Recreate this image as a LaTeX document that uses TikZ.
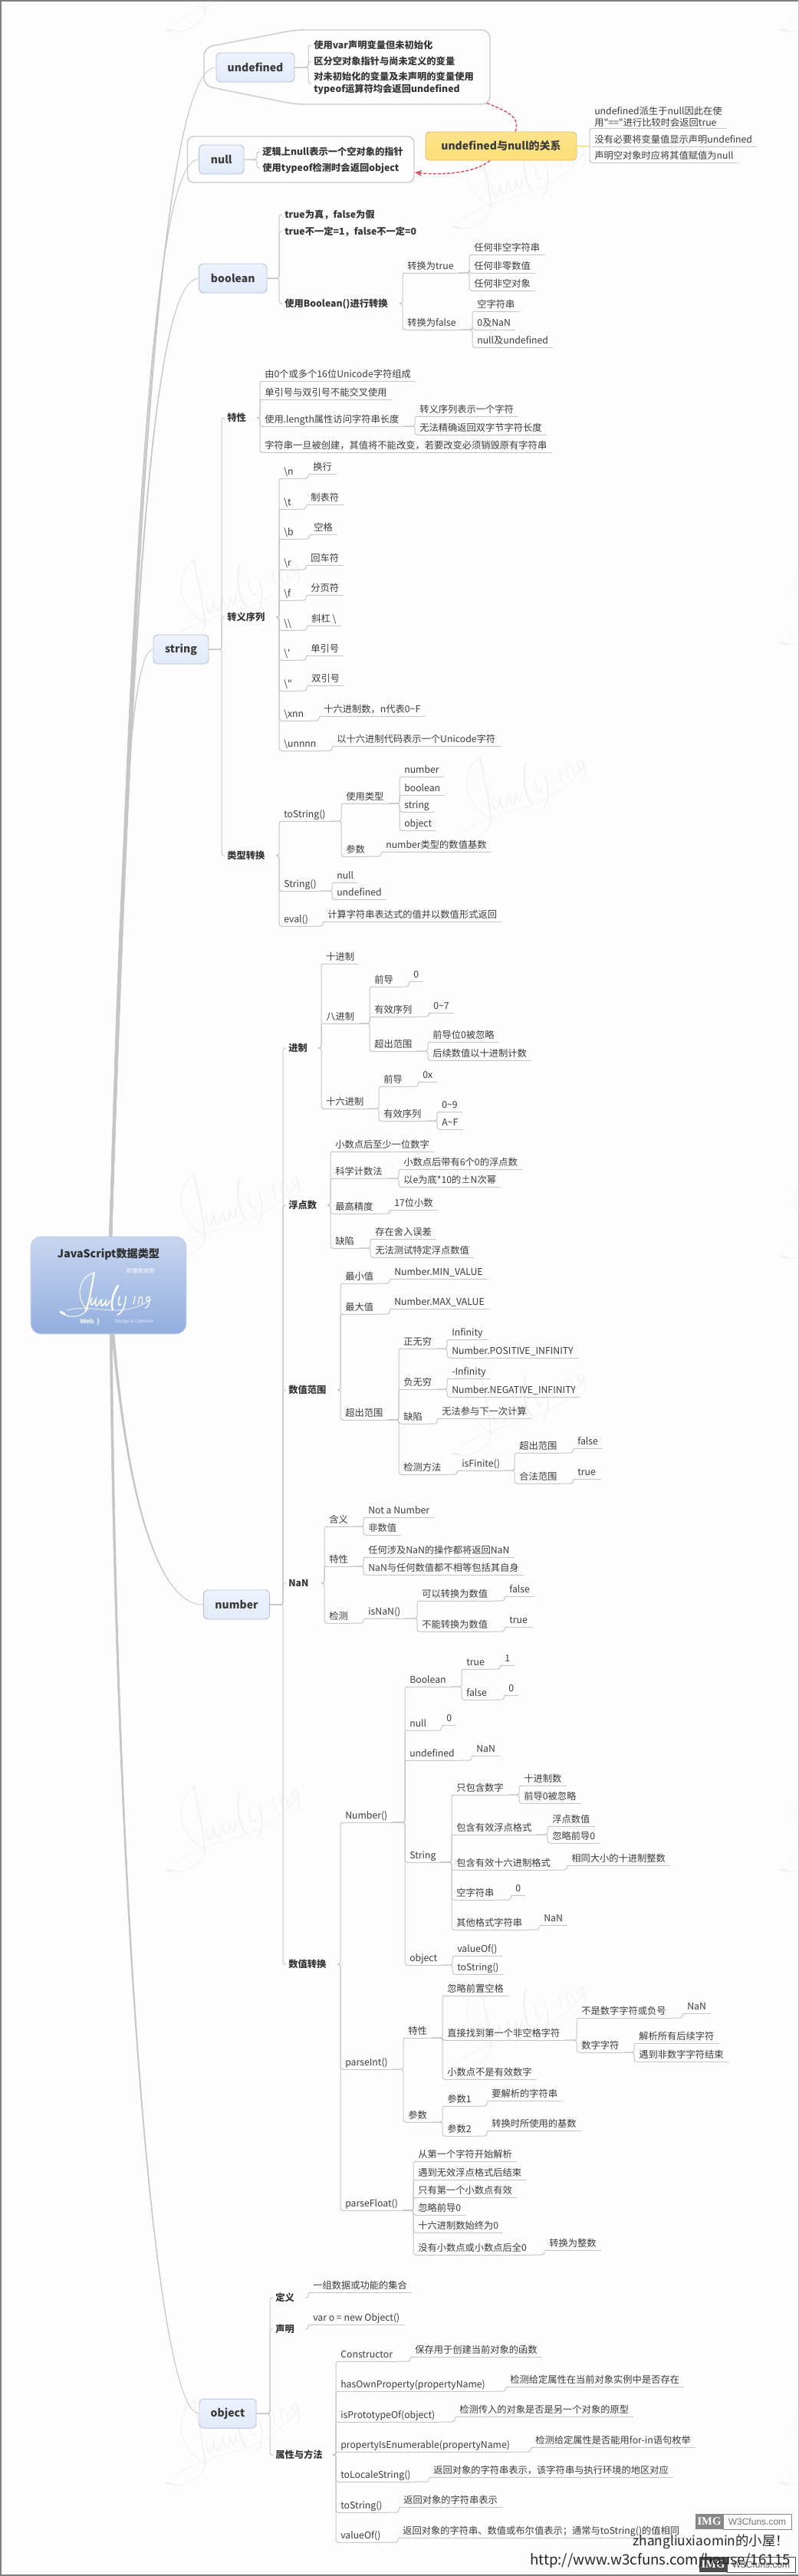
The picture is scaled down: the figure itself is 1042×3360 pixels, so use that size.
\documentclass[tikz,border=0pt]{standalone}
\usepackage{fontspec}
\usetikzlibrary{arrows.meta}
\newfontfamily\cn{Noto Sans CJK SC}
\newfontfamily\lsans{Liberation Sans}
\newfontfamily\lserif{Liberation Serif}
\definecolor{lk}{HTML}{C6C6C8}
\definecolor{tx}{HTML}{3C3C3C}
\definecolor{bgc}{HTML}{FDFDFD}
\definecolor{wm}{HTML}{F1F1F3}
\definecolor{boxline}{HTML}{B4C2DC}
\definecolor{boxtop}{HTML}{EEF3FC}
\definecolor{boxbot}{HTML}{E2EAF9}
\definecolor{framec}{HTML}{CBCBD0}
\definecolor{relc}{HTML}{D9505F}
\definecolor{rootA}{HTML}{C8D6F0}
\definecolor{rootB}{HTML}{A0B9E3}
\definecolor{rootC}{HTML}{92AEDE}
\definecolor{relline}{HTML}{E3BD62}
\definecolor{relA}{HTML}{FBE38C}
\definecolor{relB}{HTML}{FDDF78}
\tikzset{
  u/.style={anchor=south west,inner xsep=4.5pt,inner ysep=1pt,text height=7pt,text depth=2pt,font=\cn\fontsize{9.2}{11}\selectfont,text=tx},
  bo/.style={anchor=west,inner xsep=5.25pt,inner ysep=1pt,text height=8.8pt,text depth=2pt,font=\cn\bfseries\fontsize{9.2}{11}\selectfont,text=tx!90!black},
  lnk/.style={draw=lk,line width=.75pt,rounded corners=2.2pt},
  tbox/.style={draw=boxline,rounded corners=4.5pt,line width=.7pt,top color=boxtop,bottom color=boxbot,inner sep=0pt,font=\cn\bfseries\fontsize{10.5}{12}\selectfont,text=tx},
  frame/.style={draw=framec,line width=1.1pt},
  relarrow/.style={draw=relc,line width=1.1pt,dash pattern=on 3pt off 1.6pt},
  branch/.style={fill=lk,draw=lk,line width=.5pt},
}
% connectors
\newcommand\LK[2]{\draw[lnk] (#1) -- (#2 |- #1) -- (#2) -- ([xshift=3pt]#2);}
\newcommand\TK[2]{\draw[lnk] ([xshift=-3pt]#2 |- #1) -- (#2 |- #1) -- (#2) -- ([xshift=3pt]#2);}
\newcommand\ulin[1]{\draw[draw=lk,line width=.75pt] ([xshift=2.5pt]#1.south west) -- (#1.south east);}
% child with underline of an underlined parent
\newcommand\kidU[5]{\node[u] (#2) at (#3,#4) {#5};\ulin{#2}\LK{#1.south east}{#2.south west}}
% child with underline of a bold parent
\newcommand\kidT[5]{\node[u] (#2) at (#3,#4) {#5};\ulin{#2}\TK{#1.east}{#2.south west}}
% bold child of a box
\newcommand\kidB[5]{\node[bo] (#2) at (#3,#4) {#5};\LK{#1.east}{#2.west}}
% tapered branch from the root
\newcommand\branchlk[4]{\draw[branch] ([xshift=-1.2pt]#1) .. controls (#2) and (#3) .. (#4) .. controls ([xshift=.4pt]#3) and ([xshift=1.2pt]#2) .. ([xshift=1.2pt]#1) -- cycle;}
% logo strokes
\newcommand\logo[6]{%
\begin{scope}[shift={(#1,#2)},rotate=#3,scale=#4,shift={(0,-53)},line cap=round]
  \draw[#5,line width=2*#6] (44,1) .. controls (40,20) and (38,40) .. (32,52);
  \draw[#5,line width=#6] (44,1) .. controls (30,4) and (22,20) .. (26,34) .. controls (28,42) and (32,47) .. (36,50);
  \draw[#5,line width=#6] (32,52) .. controls (24,60) and (10,60) .. (2,54);
  \draw[#5,line width=3*#6] (0,52) -- (5,55);
  \draw[#5,line width=.7*#6] (8,50) .. controls (30,44) and (50,50) .. (70,50) .. controls (85,50) and (100,48) .. (118,36);
  \draw[#5,line width=1.6*#6] (41,34) .. controls (37,44) and (41,47) .. (46,36) .. controls (44,45) and (47,48) .. (52,37);
  \draw[#5,line width=1.6*#6] (54,36) .. controls (51,45) and (54,48) .. (59,38) .. controls (58,45) and (60,47) .. (64,38);
  \draw[#5,line width=2.6*#6] (75,18) .. controls (68,28) and (65,42) .. (68,49);
  \draw[#5,line width=1.6*#6] (77,32) .. controls (74,42) and (76,46) .. (79,42);
  \draw[#5,line width=1.6*#6] (85,32) .. controls (85,44) and (80,54) .. (74,56);
  \draw[#5,line width=1.2*#6] (97,32) -- (95,42);
  \draw[#5,line width=1.2*#6] (101,42) -- (103,33) .. controls (107,31) and (107,36) .. (106,42);
  \draw[#5,line width=1.2*#6] (116,33) .. controls (110,31) and (110,40) .. (115,38) (116,33) .. controls (116,42) and (114,47) .. (110,47);
\end{scope}}
\begin{document}
\begin{tikzpicture}[x=.75pt,y=-.75pt]
\useasboundingbox (0,0) rectangle (1042,3360);
\fill[bgc] (0,0) rectangle (1042,3360);
% watermarks
\logo{590}{297}{22}{1.69}{wm}{.6pt}
\logo{590}{1097}{22}{1.69}{wm}{.6pt}
\logo{590}{1897}{22}{1.69}{wm}{.6pt}
\logo{590}{2697}{22}{1.69}{wm}{.6pt}
\logo{217}{40}{22}{1.69}{wm}{.6pt}
\logo{217}{840}{22}{1.69}{wm}{.6pt}
\logo{217}{1640}{22}{1.69}{wm}{.6pt}
\logo{217}{2440}{22}{1.69}{wm}{.6pt}
\logo{217}{3240}{22}{1.69}{wm}{.6pt}
\logo{1018}{40}{22}{1.69}{wm}{.6pt}
\logo{1018}{840}{22}{1.69}{wm}{.6pt}
\logo{1018}{1640}{22}{1.69}{wm}{.6pt}
\logo{1018}{2440}{22}{1.69}{wm}{.6pt}
\logo{1018}{3240}{22}{1.69}{wm}{.6pt}
% root and boxes
\node[draw=boxline!80!white,rounded corners=10pt,line width=.7pt,top color=rootA,middle color=rootB,bottom color=rootC,minimum width=152pt,minimum height=95pt,inner sep=0pt] (root) at (141.5,1676.5) {};
\coordinate (rtop) at ([xshift=2pt]root.north);
\coordinate (rnum) at ([xshift=4.5pt]root.south);
\coordinate (robj) at ([xshift=2.5pt]root.south);
\node[tbox,minimum width=76.5pt,minimum height=28.5pt] (undef) at (333,88) {undefined};
\node[tbox,minimum width=43.9pt,minimum height=28.5pt] (nul) at (288.75,208) {null};
\node[tbox,minimum width=66.4pt,minimum height=28.5pt] (bool) at (303.75,363) {boolean};
\node[tbox,minimum width=54pt,minimum height=28.5pt] (str) at (236,847) {string};
\node[tbox,minimum width=64.7pt,minimum height=28.5pt] (num) at (308.5,2093) {number};
\node[tbox,minimum width=55.5pt,minimum height=28.5pt] (obj) at (297,3148) {object};
% branches from the root
\branchlk{rtop}{175,620}{215,88}{undef.west}
\branchlk{rtop}{172,700}{200,207}{nul.west}
\branchlk{rtop}{170,850}{195,363}{bool.west}
\branchlk{rtop}{155,1200}{165,847}{str.west}
\branchlk{rnum}{165,1950}{205,2093}{num.west}
\branchlk{robj}{150,2450}{200,3148}{obj.west}
% root content
\node[inner sep=0pt,font=\cn\bfseries\fontsize{10.6}{12}\selectfont,text=black!82] (roottitle) at (141.5,1636) {JavaScript数据类型};
\logo{79}{1712}{0}{1}{white}{.75pt}
\node[text=white,inner sep=0pt,font=\cn\fontsize{5.5}{6}\selectfont] (rootfront) at (183,1658) {前端攻城师};
\node[text=white,inner sep=0pt,font=\lsans\bfseries\fontsize{6.5}{7}\selectfont] (rootweb) at (117,1724) {Web \,\}};
\node[text=white,opacity=.75,inner sep=0pt,font=\lsans\fontsize{4.6}{5}\selectfont] (rootdes) at (175,1724) {Design \& Optimize};
% frames
\draw[frame,rounded corners=8pt] (266,62) -- (385,39) -- (639,39) -- (639,136) -- (385,136) -- (266,112) -- cycle;
\draw[frame,rounded corners=6pt] (244.5,178) rectangle (540,238);
\coordinate (fu) at (633,134);
\coordinate (fn) at (541,225);
% relation
\node[tbox,draw=relline,top color=relA,bottom color=relB,minimum width=147.75pt,minimum height=27.75pt] (rel) at (653.5,190.5) {undefined与null的关系};
\draw[relarrow] ([xshift=13.9pt]rel.north) .. controls (678,155) and (668,147) .. (fu);
\draw[relarrow,-{Stealth[length=7pt,width=6pt]}] ([xshift=-10.9pt]rel.south) .. controls (620,225) and (580,229) .. (fn);
% undefined
\kidB{undef}{ua}{402}{59}{使用var声明变量但未初始化}
\kidB{undef}{ub}{402}{80}{区分空对象指针与尚未定义的变量}
\node[anchor=west,inner xsep=5.25pt,inner ysep=1pt,align=left,font=\cn\bfseries\fontsize{9.2}{12}\selectfont,text=tx!90!black] (uc) at (402,109) {对未初始化的变量及未声明的变量使用\\typeof运算符均会返回undefined};
\LK{undef.east}{uc.west}
% null
\kidB{nul}{na}{335}{198}{逻辑上null表示一个空对象的指针}
\kidB{nul}{nb}{335}{219}{使用typeof检测时会返回object}
% relation children
\node[u,text height=,text depth=,align=left,font=\cn\fontsize{9.2}{11}\selectfont] (ra) at (769,167) {undefined派生于null因此在使\\用"=="进行比较时会返回true};
\ulin{ra}
\node[u] (rb) at (769,191) {没有必要将变量值显示声明undefined};
\ulin{rb}
\node[u] (rc) at (769,212) {声明空对象时应将其值赋值为null};
\ulin{rc}
\draw[lnk] ([xshift=3pt]ra.south west) -- (ra.south west) -- (rc.south west) -- ([xshift=3pt]rc.south west);
\draw[draw=relB!90!orange,line width=.9pt] (rel.east) -- (rb.south west);
% boolean
\kidB{bool}{ba}{364}{280}{true为真，false为假}
\kidB{bool}{bb}{364}{302}{true不一定=1，false不一定=0}
\kidB{bool}{bc}{364}{396}{使用Boolean()进行转换}
\kidT{bc}{bd}{525}{356}{转换为true}
\kidT{bc}{be}{525}{430}{转换为false}
\kidU{bd}{bf}{612}{332}{任何非空字符串}
\kidU{bd}{bg}{612}{356}{任何非零数值}
\kidU{bd}{bh}{612}{379}{任何非空对象}
\kidU{be}{bi}{616}{406}{空字符串}
\kidU{be}{bj}{616}{430}{0及NaN}
\kidU{be}{bk}{616}{453}{null及undefined}
% string
\kidB{str}{sa}{289}{545}{特性}
\kidB{str}{sb}{289}{805}{转义序列}
\kidB{str}{sc}{289}{1116}{类型转换}
\kidT{sa}{sa1}{339}{497}{由0个或多个16位Unicode字符组成}
\kidT{sa}{sa2}{339}{521}{单引号与双引号不能交叉使用}
\kidT{sa}{sa3}{339}{556}{使用.length属性访问字符串长度}
\kidT{sa}{sa4}{339}{590}{字符串一旦被创建，其值将不能改变，若要改变必须销毁原有字符串}
\kidU{sa3}{sa5}{541}{543}{转义序列表示一个字符}
\kidU{sa3}{sa6}{541}{567}{无法精确返回双字节字符长度}
\kidT{sb}{e1}{364}{624}{\textbackslash n}
\kidT{sb}{e2}{364}{664}{\textbackslash t}
\kidT{sb}{e3}{364}{703}{\textbackslash b}
\kidT{sb}{e4}{364}{743}{\textbackslash r}
\kidT{sb}{e5}{364}{783}{\textbackslash f}
\kidT{sb}{e6}{364}{822}{\textbackslash\textbackslash}
\kidT{sb}{e7}{364}{861}{\textbackslash '}
\kidT{sb}{e8}{364}{901}{\textbackslash "}
\kidT{sb}{e9}{364}{940}{\textbackslash xnn}
\kidT{sb}{e10}{364}{979}{\textbackslash unnnn}
\kidU{e1}{f1}{402}{618}{换行}
\kidU{e2}{f2}{399}{658}{制表符}
\kidU{e3}{f3}{403}{697}{空格}
\kidU{e4}{f4}{399}{737}{回车符}
\kidU{e5}{f5}{399}{776}{分页符}
\kidU{e6}{f6}{400}{816}{斜杠 \textbackslash}
\kidU{e7}{f7}{399}{855}{单引号}
\kidU{e8}{f8}{400}{894}{双引号}
\kidU{e9}{f9}{416}{934}{十六进制数，n代表0\char"7E F}
\kidU{e10}{f10}{433}{973}{以十六进制代码表示一个Unicode字符}
\kidT{sc}{c1}{364}{1071}{toString()}
\kidT{sc}{c2}{364}{1162}{String()}
\kidT{sc}{c3}{364}{1208}{eval()}
\kidU{c1}{c4}{445}{1048}{使用类型}
\kidU{c1}{c5}{445}{1117}{参数}
\kidU{c4}{c6}{521}{1013}{number}
\kidU{c4}{c7}{521}{1037}{boolean}
\kidU{c4}{c8}{521}{1059}{string}
\kidU{c4}{c9}{521}{1083}{object}
\kidU{c5}{c10}{497}{1111}{number类型的数值基数}
\kidU{c2}{c11}{433}{1151}{null}
\kidU{c2}{c12}{433}{1173}{undefined}
\kidU{c3}{c13}{421}{1202}{计算字符串表达式的值并以数值形式返回}
% number
\kidB{num}{ma}{369}{1367}{进制}
\kidB{num}{mb}{369}{1572}{浮点数}
\kidB{num}{mc}{369}{1813}{数值范围}
\kidB{num}{md}{369}{2065}{NaN}
\kidB{num}{me}{369}{2562}{数值转换}
% radix
\kidT{ma}{a1}{419}{1257}{十进制}
\kidT{ma}{a2}{419}{1335}{八进制}
\kidT{ma}{a3}{419}{1446}{十六进制}
\kidU{a2}{a4}{482}{1287}{前导}
\kidU{a2}{a5}{482}{1326}{有效序列}
\kidU{a2}{a6}{482}{1371}{超出范围}
\kidU{a4}{a7}{533}{1280}{0}
\kidU{a5}{a8}{559}{1321}{0\char"7E 7}
\kidU{a6}{a9}{558}{1359}{前导位0被忽略}
\kidU{a6}{a10}{558}{1383}{后续数值以十进制计数}
\kidU{a3}{a11}{494}{1417}{前导}
\kidU{a3}{a12}{494}{1462}{有效序列}
\kidU{a11}{a13}{545}{1411}{0x}
\kidU{a12}{a14}{570}{1450}{0\char"7E 9}
\kidU{a12}{a15}{570}{1473}{A\char"7E F}
% float
\kidT{mb}{b1}{431}{1502}{小数点后至少一位数字}
\kidT{mb}{b2}{431}{1537}{科学计数法}
\kidT{mb}{b3}{431}{1583}{最高精度}
\kidT{mb}{b4}{431}{1628}{缺陷}
\kidU{b2}{b5}{520}{1525}{小数点后带有6个0的浮点数}
\kidU{b2}{b6}{520}{1548}{以e为底*10的±N次幂}
\kidU{b3}{b7}{508}{1578}{17位小数}
\kidU{b4}{b8}{483}{1616}{存在舍入误差}
\kidU{b4}{b9}{483}{1640}{无法测试特定浮点数值}
% range
\kidT{mc}{r1}{444}{1674}{最小值}
\kidT{mc}{r2}{444}{1714}{最大值}
\kidT{mc}{r3}{444}{1852}{超出范围}
\kidU{r1}{r4}{508}{1668}{Number.MIN\_VALUE}
\kidU{r2}{r5}{508}{1707}{Number.MAX\_VALUE}
\kidU{r3}{r6}{520}{1759}{正无穷}
\kidU{r3}{r7}{520}{1812}{负无穷}
\kidU{r3}{r8}{520}{1857}{缺陷}
\kidU{r3}{r9}{520}{1923}{检测方法}
\kidU{r6}{r10}{583}{1747}{Infinity}
\kidU{r6}{r11}{583}{1771}{Number.POSITIVE\_INFINITY}
\kidU{r7}{r12}{583}{1798}{-Infinity}
\kidU{r7}{r13}{583}{1822}{Number.NEGATIVE\_INFINITY}
\kidU{r8}{r14}{570}{1850}{无法参与下一次计算}
\kidU{r9}{r15}{596}{1918}{isFinite()}
\kidU{r15}{r16}{671}{1895}{超出范围}
\kidU{r15}{r17}{671}{1935}{合法范围}
\kidU{r16}{r18}{747}{1889}{false}
\kidU{r17}{r19}{747}{1929}{true}
% NaN
\kidT{md}{n1}{423}{1991}{含义}
\kidT{md}{n2}{423}{2043}{特性}
\kidT{md}{n3}{423}{2117}{检测}
\kidU{n1}{n4}{474}{1979}{Not a Number}
\kidU{n1}{n5}{474}{2002}{非数值}
\kidU{n2}{n6}{474}{2031}{任何涉及NaN的操作都将返回NaN}
\kidU{n2}{n7}{474}{2054}{NaN与任何数值都不相等包括其自身}
\kidU{n3}{n8}{474}{2111}{isNaN()}
\kidU{n8}{n9}{544}{2088}{可以转换为数值}
\kidU{n8}{n10}{544}{2128}{不能转换为数值}
\kidU{n9}{n11}{658}{2082}{false}
\kidU{n10}{n12}{658}{2122}{true}
% conversion
\kidT{me}{t1}{444}{2377}{Number()}
\kidT{me}{t2}{444}{2699}{parseInt()}
\kidT{me}{t3}{444}{2883}{parseFloat()}
\kidU{t1}{x1}{528}{2200}{Boolean}
\kidU{t1}{x2}{528}{2257}{null}
\kidU{t1}{x3}{528}{2296}{undefined}
\kidU{t1}{x4}{528}{2429}{String}
\kidU{t1}{x5}{528}{2563}{object}
\kidU{x1}{x6}{602}{2177}{true}
\kidU{x1}{x7}{602}{2217}{false}
\kidU{x6}{x8}{652}{2172}{1}
\kidU{x7}{x9}{657}{2211}{0}
\kidU{x2}{x10}{576}{2250}{0}
\kidU{x3}{x11}{615}{2290}{NaN}
\kidU{x4}{x12}{589}{2341}{只包含数字}
\kidU{x4}{x13}{589}{2393}{包含有效浮点格式}
\kidU{x4}{x14}{589}{2439}{包含有效十六进制格式}
\kidU{x4}{x15}{589}{2478}{空字符串}
\kidU{x4}{x16}{589}{2517}{其他格式字符串}
\kidU{x12}{x17}{677}{2329}{十进制数}
\kidU{x12}{x18}{677}{2352}{前导0被忽略}
\kidU{x13}{x19}{714}{2382}{浮点数值}
\kidU{x13}{x20}{714}{2404}{忽略前导0}
\kidU{x14}{x21}{739}{2433}{相同大小的十进制整数}
\kidU{x15}{x22}{666}{2472}{0}
\kidU{x16}{x23}{703}{2511}{NaN}
\kidU{x5}{x24}{590}{2551}{valueOf()}
\kidU{x5}{x25}{590}{2575}{toString()}
\kidU{t2}{p1}{526}{2658}{特性}
\kidU{t2}{p2}{526}{2768}{参数}
\kidU{p1}{p3}{577}{2603}{忽略前置空格}
\kidU{p1}{p4}{577}{2661}{直接找到第一个非空格字符}
\kidU{p1}{p5}{577}{2712}{小数点不是有效数字}
\kidU{p4}{p6}{752}{2632}{不是数字字符或负号}
\kidU{p4}{p7}{752}{2677}{数字字符}
\kidU{p6}{p8}{890}{2626}{NaN}
\kidU{p7}{p9}{827}{2665}{解析所有后续字符}
\kidU{p7}{p10}{827}{2689}{遇到非数字字符结束}
\kidU{p2}{p11}{577}{2747}{参数1}
\kidU{p2}{p12}{577}{2786}{参数2}
\kidU{p11}{p13}{635}{2740}{要解析的字符串}
\kidU{p12}{p14}{635}{2779}{转换时所使用的基数}
\kidU{t3}{q1}{539}{2819}{从第一个字符开始解析}
\kidU{t3}{q2}{539}{2843}{遇到无效浮点格式后结束}
\kidU{t3}{q3}{539}{2866}{只有第一个小数点有效}
\kidU{t3}{q4}{539}{2889}{忽略前导0}
\kidU{t3}{q5}{539}{2912}{十六进制数始终为0}
\kidU{t3}{q6}{539}{2941}{没有小数点或小数点后全0}
\kidU{q6}{q7}{710}{2935}{转换为整数}
% object
\kidB{obj}{oa}{352}{2997}{定义}
\kidB{obj}{ob}{352}{3038}{声明}
\kidB{obj}{oc}{352}{3202}{属性与方法}
\kidT{oa}{o1}{402}{2990}{一组数据或功能的集合}
\kidT{ob}{o2}{402}{3032}{var o = new Object()}
\kidT{oc}{o3}{438}{3080}{Constructor}
\kidT{oc}{o4}{438}{3119}{hasOwnProperty(propertyName)}
\kidT{oc}{o5}{438}{3159}{isPrototypeOf(object)}
\kidT{oc}{o6}{438}{3198}{propertyIsEnumerable(propertyName)}
\kidT{oc}{o7}{438}{3237}{toLocaleString()}
\kidT{oc}{o8}{438}{3277}{toString()}
\kidT{oc}{o9}{438}{3316}{valueOf()}
\kidU{o3}{o10}{535}{3074}{保存用于创建当前对象的函数}
\kidU{o4}{o11}{659}{3113}{检测给定属性在当前对象实例中是否存在}
\kidU{o5}{o12}{593}{3152}{检测传入的对象是否是另一个对象的原型}
\kidU{o6}{o13}{692}{3192}{检测给定属性是否能用for-in语句枚举}
\kidU{o7}{o14}{559}{3231}{返回对象的字符串表示，该字符串与执行环境的地区对应}
\kidU{o8}{o15}{520}{3270}{返回对象的字符串表示}
\kidU{o9}{o16}{519}{3310}{返回对象的字符串、数值或布尔值表示；通常与toString()的值相同}
% stamps
\node[fill=black!47,text=white,minimum width=27pt,minimum height=15pt,inner sep=0pt,font=\lserif\bfseries\fontsize{11}{12}\selectfont] (img1) at (925,3289) {IMG};
\node[draw=black!47,line width=.6pt,fill=white,text=black!55,minimum width=66.75pt,minimum height=15pt,inner sep=0pt,font=\lsans\fontsize{9}{10}\selectfont] (w31) at (987.5,3289) {W3Cfuns.com};
\node[fill=black!70,text=white,minimum width=27pt,minimum height=15pt,inner sep=0pt,font=\lserif\bfseries\fontsize{11}{12}\selectfont] (img2) at (930,3345) {IMG};
\node[draw=black!70,line width=.6pt,fill=white,text=black!65,minimum width=66.75pt,minimum height=15pt,inner sep=0pt,font=\lsans\fontsize{9}{10}\selectfont] (w32) at (992.5,3345) {W3Cfuns.com};
\node[anchor=east,inner sep=0pt,font=\cn\fontsize{13}{15}\selectfont,text=black!85] (zl) at (1029,3315) {zhangliuxiaomin的小屋！};
\node[anchor=east,inner sep=0pt,font=\cn\fontsize{14}{16}\selectfont,text=black!85] (url) at (1031,3340) {http://www.w3cfuns.com/house/16115};
% page edge
\draw[black!50,line width=1.2pt] (0.8,3360) -- (0.8,0.8) -- (1042,0.8);
\draw[black!50,line width=1.2pt] (0,3358.8) -- (1042,3358.8);
\draw[black!25,line width=.6pt] (1041.6,0) -- (1041.6,3360);
\end{tikzpicture}
\end{document}
